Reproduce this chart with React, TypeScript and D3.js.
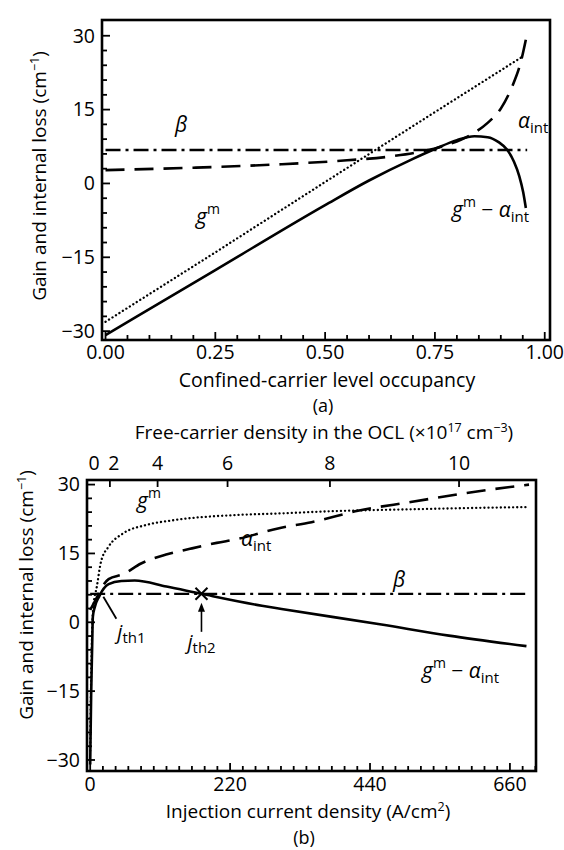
import React from "react";
import * as d3 from "d3";

// ---------- Panel (a): vs confined-carrier level occupancy ----------
const occupancyTicks = [0, 0.25, 0.5, 0.75, 1.0];
const occupancyTickLabels = ["0.00", "0.25", "0.50", "0.75", "1.00"];
const gainTicks = [-30, -15, 0, 15, 30];

const gmA: [number, number][] = [
  [0, -28.1], [0.25, -14.0], [0.5, 0.3], [0.75, 14.5], [0.95, 25.8],
];
const alphaA: [number, number][] = [
  [0, 2.7], [0.2, 3.2], [0.4, 3.9], [0.55, 4.7], [0.65, 5.5], [0.72, 6.5],
  [0.78, 7.9], [0.83, 9.8], [0.87, 12.3], [0.9, 15.2], [0.925, 19.5],
  [0.945, 24.5], [0.96, 30.5],
];
const netA: [number, number][] = [
  [0, -30.8], [0.25, -17.6], [0.5, -4.4], [0.6, 0.6], [0.7, 5.0], [0.75, 7.0],
  [0.8, 8.8], [0.84, 9.6], [0.87, 9.4], [0.895, 8.4], [0.915, 6.8],
  [0.93, 4.4], [0.942, 1.5], [0.951, -1.8], [0.957, -5.0],
];
const betaA: [number, number][] = [[0, 6.8], [0.96, 6.8]];

// ---------- Panel (b): vs injection current density ----------
const currentTicks = [0, 220, 440, 660];
const oclTickLabels = [0, 2, 4, 6, 8, 10];
const oclTickCurrents = [0, 31, 106, 216, 377, 580];

const gmB: [number, number][] = [
  [0, -28], [1.5, -12], [3, -2], [5, 3.5], [10.5, 7.8], [17, 13.2], [29, 16.5],
  [51, 19.3], [88, 21.2], [129, 22.2], [234, 23.4], [296, 23.7], [380, 24.2],
  [500, 24.6], [600, 24.9], [690, 25.1],
];
const alphaB: [number, number][] = [
  [0, 2.7], [10, 5.3], [17, 7.3], [29, 9.4], [52, 10.5], [80, 12.8],
  [121, 14.8], [157, 16.0], [199, 17.3], [230, 18.1], [297, 20.5],
  [348, 21.8], [421, 24.3], [504, 26.2], [588, 28.1], [690, 30.0],
];
const netB: [number, number][] = [
  [0, -31], [1.5, -16], [3, -6], [4.2, 1.2], [7, 3.2], [14, 5.6], [29, 8.3],
  [49, 9.0], [70, 9.1], [120, 7.8], [175, 6.2], [270, 3.6], [301, 2.9],
  [458, -0.5], [564, -2.9], [686, -5.2],
];
const betaB: [number, number][] = [[0, 6.2], [690, 6.2]];
const jth2 = 175;
const jth1 = 16;

const FONT = "'Open Sans', 'DejaVu Sans', sans-serif";

export default function App() {
  // Panel (a) geometry
  const a = { left: 102, right: 550, top: 20, bottom: 340 };
  const xA = d3.scaleLinear().domain([-0.008, 1.012]).range([a.left, a.right]);
  const yA = d3.scaleLinear().domain([-31.8, 33.2]).range([a.bottom, a.top]);

  // Panel (b) geometry
  const b = { left: 87, right: 536, top: 480, bottom: 771 };
  const xB = d3.scaleLinear().domain([-5, 701]).range([b.left, b.right]);
  const yB = d3.scaleLinear().domain([-32.4, 31]).range([b.bottom, b.top]);

  const lineA = d3.line<[number, number]>().x((d) => xA(d[0])).y((d) => yA(d[1])).curve(d3.curveMonotoneX);
  const lineALin = d3.line<[number, number]>().x((d) => xA(d[0])).y((d) => yA(d[1]));
  const lineB = d3.line<[number, number]>().x((d) => xB(d[0])).y((d) => yB(d[1])).curve(d3.curveMonotoneX);

  const minorY = d3.range(-30, 31, 3);
  const minorXA = d3.range(0, 1.0001, 0.05);
  const minorXB = d3.range(0, 701, 20);

  const dotted = { strokeDasharray: "0.1 4", strokeLinecap: "round" as const, strokeWidth: 2.3 };
  const dashed = { strokeDasharray: "19 10", strokeWidth: 2.6 };
  const dashDot = { strokeDasharray: "15 5 3 5", strokeWidth: 2.4 };

  const yLabel = (
    <>
      Gain and internal loss (cm
      <tspan dy={-7} fontSize={12.5}>−1</tspan>
      <tspan dy={7}>)</tspan>
    </>
  );

  const gLabel = (x: number, y: number) => (
    <text x={x} y={y} fontSize={21} fontFamily={FONT}>
      <tspan fontStyle="italic">g</tspan>
      <tspan dy={-10} fontSize={14}>m</tspan>
    </text>
  );
  const netLabel = (x: number, y: number) => (
    <text x={x} y={y} fontSize={21} fontFamily={FONT}>
      <tspan fontStyle="italic">g</tspan>
      <tspan dy={-10} fontSize={14}>m</tspan>
      <tspan dy={10}> − </tspan>
      <tspan fontStyle="italic">α</tspan>
      <tspan dy={5} fontSize={15}>int</tspan>
    </text>
  );
  const alphaLabel = (x: number, y: number) => (
    <text x={x} y={y} fontSize={21} fontFamily={FONT}>
      <tspan fontStyle="italic">α</tspan>
      <tspan dy={5} fontSize={15}>int</tspan>
    </text>
  );
  const betaLabel = (x: number, y: number) => (
    <text x={x} y={y} fontSize={21} fontFamily={FONT} fontStyle="italic">β</text>
  );

  const xMark = { x: xB(jth2), y: yB(betaB[0][1]) };
  const th1 = { x: xB(jth1), y: yB(betaB[0][1]) };

  return (
    <div style={{ position: "absolute", left: 0, top: 0 }}>
      <svg width={564} height={850} viewBox="0 0 564 850" style={{ display: "block", background: "#fff" }}>
        {/* ================= Panel (a) ================= */}
        <g fill="none" stroke="#000">
          <rect x={a.left} y={a.top} width={a.right - a.left} height={a.bottom - a.top} strokeWidth={2.6} />
          {minorY.map((v) => (
            <line key={"ay" + v} x1={a.left} x2={a.left + (v % 15 === 0 ? 8 : 5)} y1={yA(v)} y2={yA(v)} strokeWidth={1.8} />
          ))}
          {minorXA.map((v) => {
            const major = Math.abs(Math.round(v * 4) - v * 4) < 1e-6;
            return (
              <line key={"ax" + v} x1={xA(v)} x2={xA(v)} y1={a.bottom} y2={a.bottom - (major ? 8 : 5)} strokeWidth={1.8} />
            );
          })}
          <path d={lineALin(gmA) || ""} stroke="#000" {...dotted} />
          <path d={lineA(alphaA) || ""} stroke="#000" {...dashed} />
          <path d={lineALin(betaA) || ""} stroke="#000" {...dashDot} />
          <path d={lineA(netA) || ""} stroke="#000" strokeWidth={2.6} />
        </g>
        <g fontFamily={FONT} fontSize={19.5} fill="#000">
          {gainTicks.map((v) => (
            <text key={"ayl" + v} x={a.left - 7} y={yA(v)} dy="0.35em" textAnchor="end">
              {v < 0 ? "−" + Math.abs(v) : v}
            </text>
          ))}
          {occupancyTicks.map((v, i) => (
            <text key={"axl" + v} x={xA(v)} y={a.bottom + 19} textAnchor="middle">
              {occupancyTickLabels[i]}
            </text>
          ))}
          <text x={327} y={387} fontSize={19.5} textAnchor="middle">Confined-carrier level occupancy</text>
          <text x={323} y={412} fontSize={18} textAnchor="middle">(a)</text>
          <text transform="translate(46,176) rotate(-90)" fontSize={19} textAnchor="middle">{yLabel}</text>
        </g>
        {betaLabel(175, 132)}
        {alphaLabel(518, 128)}
        {gLabel(196, 224)}
        {netLabel(452, 217)}

        {/* ================= Panel (b) ================= */}
        <g fill="none" stroke="#000">
          <rect x={b.left} y={b.top} width={b.right - b.left} height={b.bottom - b.top} strokeWidth={2.6} />
          {minorY.map((v) => (
            <line key={"by" + v} x1={b.left} x2={b.left + (v % 15 === 0 ? 8 : 5)} y1={yB(v)} y2={yB(v)} strokeWidth={1.8} />
          ))}
          {minorXB.map((v) => (
            <line key={"bx" + v} x1={xB(v)} x2={xB(v)} y1={b.bottom} y2={b.bottom - (v % 220 === 0 ? 8 : 5)} strokeWidth={1.8} />
          ))}
          {oclTickCurrents.map((j, i) =>
            i === 0 ? null : (
              <line key={"bt" + j} x1={xB(j)} x2={xB(j)} y1={b.top} y2={b.top + 7} strokeWidth={1.8} />
            )
          )}
          <path d={lineB(gmB) || ""} stroke="#000" {...dotted} />
          <path d={lineB(alphaB) || ""} stroke="#000" {...dashed} />
          <path d={lineB(betaB) || ""} stroke="#000" {...dashDot} />
          <path d={lineB(netB) || ""} stroke="#000" strokeWidth={2.6} />
          {/* threshold markers */}
          <line x1={xMark.x - 6} x2={xMark.x + 6} y1={xMark.y - 6} y2={xMark.y + 6} strokeWidth={2} />
          <line x1={xMark.x - 6} x2={xMark.x + 6} y1={xMark.y + 6} y2={xMark.y - 6} strokeWidth={2} />
          <line x1={xMark.x} x2={xMark.x} y1={xMark.y + 38} y2={xMark.y + 14} strokeWidth={1.6} />
          <line x1={th1.x + 3} x2={th1.x + 16} y1={th1.y + 3} y2={th1.y + 25} strokeWidth={1.8} />
        </g>
        <path
          d={`M${xMark.x},${xMark.y + 9} L${xMark.x - 3.5},${xMark.y + 18} L${xMark.x + 3.5},${xMark.y + 18} Z`}
          fill="#000"
        />
        <g fontFamily={FONT} fontSize={19.5} fill="#000">
          {gainTicks.map((v) => (
            <text key={"byl" + v} x={b.left - 7} y={yB(v)} dy="0.35em" textAnchor="end">
              {v < 0 ? "−" + Math.abs(v) : v}
            </text>
          ))}
          {currentTicks.map((v) => (
            <text key={"bxl" + v} x={xB(v)} y={b.bottom + 20} textAnchor="middle">{v}</text>
          ))}
          {oclTickLabels.map((n, i) => (
            <text key={"btl" + n} x={xB(oclTickCurrents[i]) + (i === 0 ? 4 : i === 1 ? 4 : 0)} y={b.top - 10} textAnchor="middle">
              {n}
            </text>
          ))}
          <text x={324} y={439} fontSize={19} textAnchor="middle">
            Free-carrier density in the OCL (×10
            <tspan dy={-7} fontSize={12.5}>17</tspan>
            <tspan dy={7}> cm</tspan>
            <tspan dy={-7} fontSize={12.5}>−3</tspan>
            <tspan dy={7}>)</tspan>
          </text>
          <text x={308} y={818} fontSize={19} textAnchor="middle">
            Injection current density (A/cm
            <tspan dy={-7} fontSize={12.5}>2</tspan>
            <tspan dy={7}>)</tspan>
          </text>
          <text x={304} y={844} fontSize={18} textAnchor="middle">(b)</text>
          <text transform="translate(33,595) rotate(-90)" fontSize={19} textAnchor="middle">{yLabel}</text>
          <text x={th1.x + 17} y={th1.y + 45} fontSize={20}>
            <tspan fontStyle="italic">j</tspan>
            <tspan dy={4} fontSize={15}>th1</tspan>
          </text>
          <text x={xMark.x - 14} y={xMark.y + 55} fontSize={20}>
            <tspan fontStyle="italic">j</tspan>
            <tspan dy={4} fontSize={15}>th2</tspan>
          </text>
        </g>
        {gLabel(137, 508)}
        {alphaLabel(241, 546)}
        {betaLabel(393, 587)}
        {netLabel(422, 678)}
      </svg>
    </div>
  );
}
